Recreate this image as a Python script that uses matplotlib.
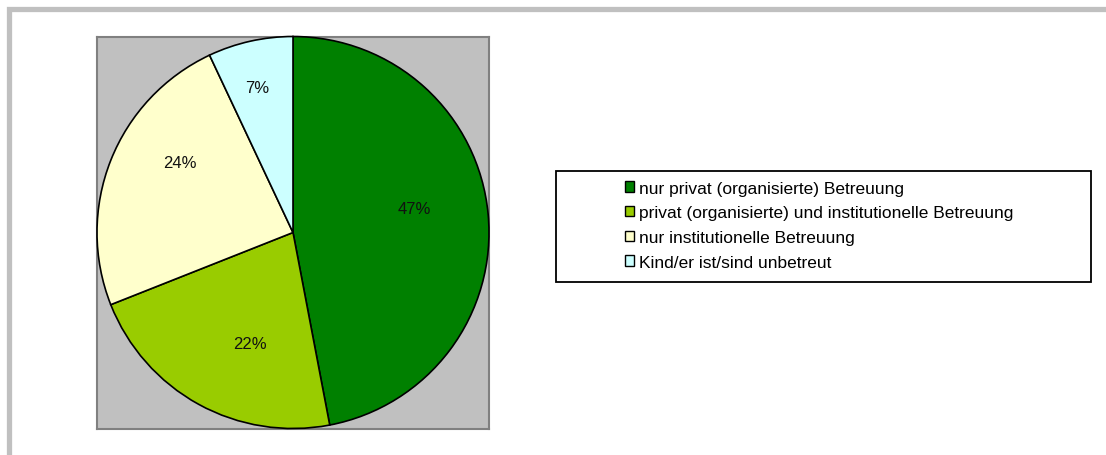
import numpy as np
import matplotlib.pyplot as plt
from matplotlib.patches import Rectangle, Patch

plt.rcParams['font.family'] = ['Liberation Sans', 'DejaVu Sans']

categories = ['nur privat (organisierte) Betreuung',
              'privat (organisierte) und institutionelle Betreuung',
              'nur institutionelle Betreuung',
              'Kind/er ist/sind unbetreut']
shares = [47, 22, 24, 7]
colors = ['#008000', '#99cc00', '#ffffcc', '#ccffff']

# where each percentage sits: distance from centre and angle shift (deg)
label_radius = [0.63, 0.61, 0.68, 0.76]
label_shift = [5.8, 7.6, -10.0, 1.4]

W, H = 1106, 456
fig = plt.figure(figsize=(W / 100, H / 100), dpi=100)

# light grey frame, cut off at right and bottom
fig.patches.append(Rectangle((8.5 / W, -0.1), 1.2, (H - 9.5) / H + 0.1,
                             transform=fig.transFigure, fill=False,
                             edgecolor='#c0c0c0', linewidth=3.8))

# plot area
ax = fig.add_axes([97 / W, (H - 430) / H, 392 / W, 393 / H])
wedges, texts, autotexts = ax.pie(
    shares, colors=colors, startangle=90, counterclock=False,
    autopct='%1.0f%%', frame=True,
    wedgeprops=dict(edgecolor='black', linewidth=1.2, clip_on=False),
    textprops=dict(fontsize=12, color='#111111'))
for w, t, r, d in zip(wedges, autotexts, label_radius, label_shift):
    a = np.deg2rad((w.theta1 + w.theta2) / 2 + d)
    t.set_position((r * np.cos(a), r * np.sin(a)))

ax.set_facecolor('#c0c0c0')
ax.set_xlim(-1.0, 1.0)
ax.set_ylim(-1.0, 1.0)
ax.set_xticks([])
ax.set_yticks([])
for s in ax.spines.values():
    s.set_color('#808080')
    s.set_linewidth(1.5)
    s.set_zorder(0.5)

# legend box
fig.patches.append(Rectangle((556 / W, (H - 283) / H), 535 / W, 111 / H,
                             transform=fig.transFigure, fill=False,
                             edgecolor='black', linewidth=1.3))
handles = [Patch(facecolor=c, edgecolor='black', linewidth=1.0) for c in colors]
fig.legend(handles, categories, loc='upper left',
           bbox_to_anchor=(616 / W, (H - 173) / H), frameon=False,
           fontsize=12.5, handlelength=0.55, handleheight=0.55,
           handletextpad=0.3, labelspacing=0.56, borderpad=0.0)

fig.savefig('out.png', dpi=100)
